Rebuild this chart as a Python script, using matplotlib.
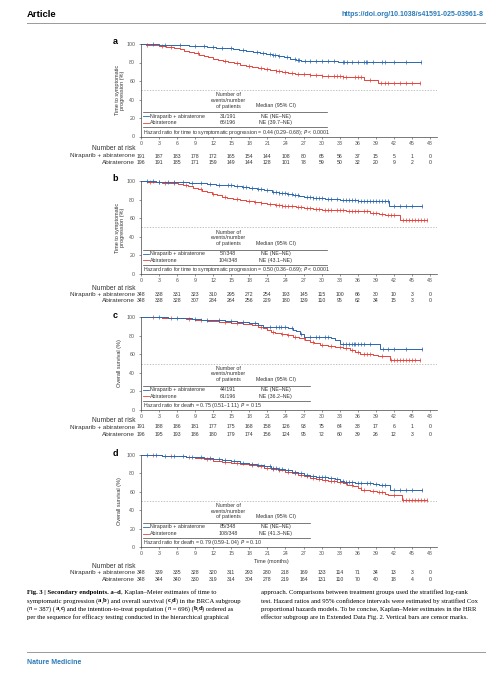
import numpy as np
import matplotlib
matplotlib.use("Agg")
import matplotlib.pyplot as plt
from matplotlib.transforms import blended_transform_factory

plt.rcParams["font.family"] = ["Liberation Sans", "DejaVu Sans"]

W, H = 493, 680
BLUE = "#2a66ad"
RED = "#e5433b"
LINK = "#2a7ab8"
INK = "#333333"
GREY = "#555555"

months = [0, 3, 6, 9, 12, 15, 18, 21, 24, 27, 30, 33, 36, 39, 42, 45, 48]
arms = ["Niraparib + abiraterone", "Abiraterone"]

# ---- panel a: time to symptomatic progression, BRCA
a_nir_t = [0, 1.2, 3.0, 5.5, 8.0, 9.5, 11.0, 12.5, 14.0, 15.2, 16.3, 17.5, 18.6, 19.8, 20.8,
           21.8, 22.8, 23.8, 24.8, 25.8, 26.6, 32.8]
a_nir_s = [100, 99.5, 99.0, 98.5, 98.0, 97.4, 96.8, 96.2, 95.5, 94.7, 93.8, 92.8, 91.8, 90.6, 89.4,
           88.3, 87.0, 85.5, 84.0, 82.5, 81.3, 80.8]
a_nir_end = 46.5
a_nir_cens = [2, 4, 6.5, 9, 10.5, 12, 13.5, 15, 17, 19.2, 20.3, 21.5, 22, 22.3, 23, 24.3, 25.5, 26,
              26.3, 27.2, 28, 29, 30, 31, 32, 33.5, 33.8, 34.2, 35, 36, 37, 37.3, 37.6, 38.5, 40,
              40.5, 42, 44, 46.5]
a_abi_t = [0, 0.8, 1.8, 3.0, 4.2, 5.5, 6.5, 7.2, 8.0, 8.8, 9.6, 10.4, 11.2, 12.0, 12.8, 13.6, 14.5,
           15.5, 16.5, 17.5, 18.5, 19.5, 20.5, 21.5, 22.5, 23.5, 24.5, 25.5, 26.5, 28.0, 30.0, 33.5,
           35.0, 37.0, 39.4]
a_abi_s = [100, 99.2, 98.4, 97.5, 96.4, 95.3, 94.2, 92.8, 91.5, 90.0, 88.6, 87.2, 85.8, 84.3, 83.0,
           81.6, 80.3, 79.0, 77.8, 76.6, 75.5, 74.3, 73.2, 72.0, 71.0, 70.0, 69.0, 68.0, 67.2, 66.3,
           65.6, 64.8, 63.8, 61.6, 58.2]
a_abi_end = 46.3
a_abi_cens = [1, 3.5, 5, 9.5, 14, 16, 18, 20, 21, 22.5, 23, 24, 25, 26, 27, 28, 29, 30, 31, 32,
              32.5, 33, 33.5, 34, 35.5, 36, 36.5, 38, 39.8, 40.5, 41, 42, 43, 44, 45, 46.3]
a_risk_nir = [191, 187, 183, 178, 172, 165, 154, 144, 108, 80, 65, 56, 37, 15, 5, 1, 0]
a_risk_abi = [196, 191, 185, 171, 159, 149, 144, 128, 101, 78, 59, 50, 32, 20, 9, 2, 0]
a_events = ["31/191", "66/196"]
a_median = ["NE (NE\u2013NE)", "NE (39.7\u2013NE)"]
a_hr = "Hazard ratio for time to symptomatic progression = 0.44 (0.29\u20130.68); $P$ < 0.0001"

# ---- panel b: time to symptomatic progression, ITT
b_nir_t = [0, 1, 2.5, 4, 6, 8, 9.5, 11, 12.5, 14, 15.5, 16.8, 18, 19.2, 20.5, 21.8, 23, 24.2,
           25.3, 26.2, 27.0, 28.5, 30.5, 32.0, 33.0, 36, 41.2]
b_nir_s = [100, 99.6, 99.2, 98.9, 98.6, 98.2, 97.6, 96.9, 96.1, 95.2, 94.2, 93.2, 92.1, 91.0,
           89.8, 88.6, 87.5, 86.4, 85.2, 83.8, 82.3, 81.6, 81.0, 80.2, 79.2, 78.8, 72.6]
b_nir_end = 46.6
b_nir_cens = [1, 2, 3, 4.5, 5.5, 7, 8.5, 10, 11.5, 13, 14.5, 15, 16, 17, 17.5, 18.5, 19.5, 20,
              21, 22, 22.5, 23, 23.5, 24, 24.5, 25, 25.5, 26, 27.5, 28, 28.5, 29, 29.5, 30, 31,
              31.5, 32.5, 33.5, 34, 34.5, 35, 35.5, 36, 36.5, 37, 37.5, 38, 38.5, 39, 39.5, 40,
              40.5, 41, 42, 43, 44, 45, 46.6]
b_abi_t = [0, 1, 2.2, 3.5, 5, 6.2, 7, 7.8, 8.6, 9.4, 10.2, 11.0, 11.8, 12.6, 13.4, 14.3, 15.3,
           16.4, 17.5, 18.7, 19.9, 21.0, 22.2, 23.4, 24.6, 25.8, 27.0, 28.5, 30.0, 32.0, 34.0,
           36.5, 38.0, 39.5, 40.5, 43.0]
b_abi_s = [100, 99.4, 98.8, 98.2, 97.5, 96.8, 95.6, 94.2, 92.6, 91.0, 89.4, 87.8, 86.2, 84.7,
           83.2, 81.8, 80.6, 79.5, 78.5, 77.4, 76.4, 75.4, 74.4, 73.5, 72.6, 71.7, 70.8, 70.0,
           69.3, 68.8, 68.2, 67.3, 66.0, 64.5, 63.4, 58.3]
b_abi_end = 47.5
b_abi_cens = [1.5, 3, 4, 5.5, 7.5, 10, 12, 14, 16, 18, 19, 20, 21.5, 22.5, 23, 23.5, 24, 24.5,
              25, 26, 26.5, 27.5, 28, 29, 29.5, 30.5, 31, 31.5, 32.5, 33, 33.5, 34.5, 35, 35.5,
              36, 37, 37.5, 38.5, 39, 40, 41, 41.5, 42, 43.5, 44, 44.5, 45, 45.5, 46, 46.5, 47,
              47.5]
b_risk_nir = [348, 338, 331, 323, 310, 295, 272, 254, 193, 145, 115, 100, 66, 30, 10, 3, 0]
b_risk_abi = [348, 338, 328, 307, 284, 264, 256, 229, 180, 139, 110, 95, 62, 34, 15, 3, 0]
b_events = ["57/348", "104/348"]
b_median = ["NE (NE\u2013NE)", "NE (43.1\u2013NE)"]
b_hr = "Hazard ratio for time to symptomatic progression = 0.50 (0.36\u20130.69); $P$ < 0.0001"

# ---- panel c: overall survival, BRCA
c_nir_t = [0, 2, 4.5, 7, 8.5, 10, 12, 14, 16, 18, 19.5, 20.3, 22, 24.5, 25.2, 25.8, 26.4, 27,
           29.5, 31.5, 32.3, 33, 39.7]
c_nir_s = [100, 99.6, 99.1, 98.5, 98.0, 97.2, 96.4, 95.6, 94.6, 93.2, 91.5, 89.5, 88.8, 88.0,
           86.5, 84.5, 82.0, 79.0, 78.2, 77.0, 75.2, 70.5, 66.0]
c_nir_end = 46.6
c_nir_cens = [3, 6, 9, 11, 13, 15, 17, 19, 21.5, 22.5, 23, 23.3, 24, 25, 26.5, 28, 29, 29.5,
              30.5, 31, 33.5, 34, 34.5, 35, 35.3, 35.6, 36, 36.5, 37, 38, 40.2, 41, 42, 44, 46.6]
c_abi_t = [0, 1.5, 3.5, 6, 7.5, 9, 11, 13, 15, 17, 18.5, 19.5, 20.3, 21, 21.6, 22.3, 23.2, 24.2,
           25.2, 26.2, 27.2, 28.0, 28.8, 29.8, 31.0, 32.3, 33.6, 34.7, 35.6, 36.4, 38.5, 39.3, 41.3]
c_abi_s = [100, 99.5, 99.0, 98.6, 97.8, 97.0, 96.0, 95.0, 93.8, 92.4, 91.2, 89.6, 87.8, 85.8,
           84.2, 82.8, 81.5, 80.2, 79.0, 77.5, 75.6, 73.5, 71.8, 70.0, 68.5, 67.3, 66.2, 64.5,
           62.2, 60.3, 59.5, 57.8, 53.6]
c_abi_end = 46.3
c_abi_cens = [2, 5, 8, 10, 14, 16, 20, 22, 23.5, 24.5, 25.5, 27, 28.5, 30, 31.5, 33, 34, 35, 36,
              37, 37.5, 38, 40, 41.5, 42, 42.5, 43, 43.5, 44, 44.5, 45, 45.5, 46.3]
c_risk_nir = [191, 188, 186, 181, 177, 175, 168, 158, 126, 93, 75, 64, 38, 17, 6, 1, 0]
c_risk_abi = [196, 195, 193, 186, 180, 179, 174, 156, 124, 95, 72, 60, 39, 26, 12, 3, 0]
c_events = ["44/191", "61/196"]
c_median = ["NE (NE\u2013NE)", "NE (36.2\u2013NE)"]
c_hr = "Hazard ratio for death = 0.75 (0.51\u20131.11); $P$ = 0.15"

# ---- panel d: overall survival, ITT
d_nir_t = [0, 1.5, 3.5, 6, 7.5, 9, 10.5, 12, 13.5, 15, 16.5, 18, 19.2, 20.4, 21.6, 22.8, 24, 25,
           26, 27, 28, 29, 31, 32.2, 33, 33.8, 35.5, 37, 38.5, 39.5, 41.3]
d_nir_s = [100, 99.6, 99.2, 98.7, 98.2, 97.4, 96.5, 95.4, 94.2, 93.0, 91.8, 90.4, 89.0, 87.6,
           86.2, 84.8, 83.4, 81.8, 80.3, 78.8, 77.0, 75.8, 75.0, 73.8, 72.2, 70.8, 70.0, 69.4,
           68.4, 67.5, 62.5]
d_nir_end = 46.6
d_nir_cens = [1, 2.5, 4, 5.5, 7, 8.5, 10, 11.5, 13, 14, 15.5, 17, 18.5, 19.5, 20.5, 21.5, 22,
              22.5, 23, 23.5, 24.5, 25.5, 26.5, 27.5, 28.5, 29.5, 30, 30.5, 31.5, 32.5, 33.5, 34,
              34.5, 35, 36, 36.5, 37.5, 38, 39, 40, 40.5, 42, 43, 44, 45, 46.6]
d_abi_t = [0, 1.5, 3.5, 6, 7.5, 9, 10.5, 12, 13.5, 15, 16.5, 18, 19.2, 20.4, 21.6, 22.8, 24, 25,
           26, 27, 28, 29, 30, 31, 32.5, 33.5, 34.3, 35.2, 36.0, 36.6, 38, 39.2, 40.5, 41, 43.3]
d_abi_s = [100, 99.5, 99.0, 98.4, 97.6, 96.5, 95.4, 94.0, 92.6, 91.6, 90.4, 89.2, 87.8, 86.2,
           84.8, 83.2, 81.6, 80.0, 78.4, 76.8, 75.4, 74.2, 73.0, 72.0, 71.0, 69.5, 67.8, 66.0,
           63.8, 62.0, 61.0, 60.0, 58.0, 56.3, 51.0]
d_abi_end = 47.5
d_abi_cens = [2, 5, 8, 11, 14, 16, 18.5, 20, 21, 22, 23, 24.5, 25.5, 26.5, 27.5, 28.5, 29.5,
              30.5, 31.5, 32, 33, 34, 35, 36.5, 37, 38.5, 39.5, 40, 42, 43.5, 44, 44.5, 45, 45.5,
              46, 46.5, 47, 47.5]
d_risk_nir = [348, 339, 335, 328, 320, 311, 293, 280, 218, 169, 133, 114, 71, 34, 13, 3, 0]
d_risk_abi = [348, 344, 340, 330, 319, 314, 304, 278, 219, 164, 131, 110, 70, 40, 18, 4, 0]
d_events = ["85/348", "108/348"]
d_median = ["NE (NE\u2013NE)", "NE (41.3\u2013NE)"]
d_hr = "Hazard ratio for death = 0.79 (0.59\u20131.04); $P$ = 0.10"

TTP_LABEL = "Time to symptomatic\nprogression (%)"
OS_LABEL = "Overall survival (%)"

caption_left = [
    [("Fig. 3 | Secondary endpoints. a\u2013d", "b"), (", Kaplan\u2013Meier estimates of time to", "")],
    [("symptomatic progression (", ""), ("a", "b"), (",", ""), ("b", "b"),
     (") and overall survival (", ""), ("c", "b"), (",", ""), ("d", "b"),
     (") in the BRCA subgroup", "")],
    [("(", ""), ("n", "i"), (" = 387) (", ""), ("a", "b"), (",", ""), ("c", "b"),
     (") and the intention-to-treat population (", ""), ("n", "i"), (" = 696) (", ""),
     ("b", "b"), (",", ""), ("d", "b"), (") ordered as", "")],
    [("per the sequence for efficacy testing conducted in the hierarchical graphical", "")],
]
caption_right = [
    "approach. Comparisons between treatment groups used the stratified log-rank",
    "test. Hazard ratios and 95% confidence intervals were estimated by stratified Cox",
    "proportional hazards models. To be concise, Kaplan\u2013Meier estimates in the HRR",
    "effector subgroup are in Extended Data Fig. 2. Vertical bars are censor marks.",
]

fig = plt.figure(figsize=(W / 100, H / 100), dpi=100)


def fx(x):
    return x / W


def fy(y):
    return 1 - y / H


X0, PXM, XMAX = 141, 6.02, 49.2


def step_at(t, s, c):
    i = np.searchsorted(np.asarray(t), np.asarray(c), side="right") - 1
    return np.asarray(s)[i]


def km(ax, t, s, end, cens, color):
    tt = list(t) + [end]
    ss = list(s) + [s[-1]]
    ax.step(tt, ss, where="post", color=color, lw=0.7, clip_on=False)
    ax.plot(cens, step_at(t, s, cens), ls="none", marker="|", ms=2.5, mew=0.5,
            color=color, clip_on=False)


def panel(letter, top, zero, curves, risk, events, median, hr, ylabel, tab_right, rows_y,
          head_y, xlabel=None):
    ax = fig.add_axes([fx(X0), fy(zero), XMAX * PXM / W, (zero - top) / H])
    ax.set_xlim(0, XMAX)
    ax.set_ylim(0, 100)
    for sp in ("top", "right"):
        ax.spines[sp].set_visible(False)
    for sp in ("left", "bottom"):
        ax.spines[sp].set_linewidth(0.5)
        ax.spines[sp].set_color("#444444")
    ax.set_xticks(months)
    ax.set_yticks([0, 20, 40, 60, 80, 100])
    ax.tick_params(labelsize=3.8, labelcolor=GREY, length=1.6, width=0.4, color="#444444",
                   pad=1.6)
    ax.tick_params(axis="y", pad=2.6)
    ax.axhline(50, color="#aaaaaa", lw=0.5, ls=(0, (2, 2)))

    (nt, ns, ne, nc), (at, as_, ae, ac) = curves
    km(ax, at, as_, ae, ac, RED)
    km(ax, nt, ns, ne, nc, BLUE)

    # embedded table
    fs = 3.75
    ax.text(14.45, 39, "Number of\nevents/number\nof patients", ha="center", va="center",
            fontsize=fs, color=INK, linespacing=1.15)
    ax.text(22.4, 33, "Median (95% CI)", ha="center", va="center", fontsize=fs, color=INK)
    ax.plot([0.33, tab_right], [26.3, 26.3], color="#444444", lw=0.5)
    ax.plot([0.33, tab_right], [9.8, 9.8], color="#444444", lw=0.5)
    for yv, col, name, ev, md in zip([22, 14.6], [BLUE, RED], arms, events, median):
        ax.plot([0.33, 1.3], [yv, yv], color=col, lw=0.6)
        ax.text(1.55, yv, name, ha="left", va="center", fontsize=fs, color=INK)
        ax.text(14.45, yv, ev, ha="center", va="center", fontsize=fs, color=INK)
        ax.text(22.4, yv, md, ha="center", va="center", fontsize=fs, color=INK)
    ax.text(0.33, 4.8, hr, ha="left", va="center", fontsize=fs, color=INK)

    # labels
    fig.text(fx(115), fy(top - 2), letter, fontsize=6.5, fontweight="bold", ha="center",
             va="center")
    fig.text(fx(120), fy((top + zero) / 2), ylabel, rotation=90, ha="center", va="center",
             fontsize=4.0, color=INK, linespacing=1.1)
    if xlabel:
        fig.text(fx(271), fy(xlabel[1]), xlabel[0], ha="center", va="center", fontsize=3.9,
                 color=INK)

    # number at risk
    tr = blended_transform_factory(ax.transData, fig.transFigure)
    fig.text(fx(135), fy(head_y), "Number at risk", ha="right", va="center", fontsize=4.8,
             color=INK)
    for yv, name, vals in zip(rows_y, arms, risk):
        fig.text(fx(135), fy(yv), name, ha="right", va="center", fontsize=4.6, color=INK)
        for m, v in zip(months, vals):
            ax.text(m, fy(yv), str(v), transform=tr, ha="center", va="center", fontsize=3.7,
                    color=INK)
    return ax


panel("a", 44, 136.5,
      [(a_nir_t, a_nir_s, a_nir_end, a_nir_cens), (a_abi_t, a_abi_s, a_abi_end, a_abi_cens)],
      [a_risk_nir, a_risk_abi], a_events, a_median, a_hr, TTP_LABEL, 30.9, [156, 163], 149)
panel("b", 181, 274,
      [(b_nir_t, b_nir_s, b_nir_end, b_nir_cens), (b_abi_t, b_abi_s, b_abi_end, b_abi_cens)],
      [b_risk_nir, b_risk_abi], b_events, b_median, b_hr, TTP_LABEL, 30.9, [294.5, 301], 288.5)
panel("c", 317, 410,
      [(c_nir_t, c_nir_s, c_nir_end, c_nir_cens), (c_abi_t, c_abi_s, c_abi_end, c_abi_cens)],
      [c_risk_nir, c_risk_abi], c_events, c_median, c_hr, OS_LABEL, 28.1, [427, 434], 421)
panel("d", 455, 547,
      [(d_nir_t, d_nir_s, d_nir_end, d_nir_cens), (d_abi_t, d_abi_s, d_abi_end, d_abi_cens)],
      [d_risk_nir, d_risk_abi], d_events, d_median, d_hr, OS_LABEL, 28.1, [572.3, 579.3], 567,
      xlabel=("Time (months)", 562))

# page header / footer
fig.text(fx(27), fy(14.7), "Article", fontsize=6.8, fontweight="bold", va="center", ha="left")
fig.text(fx(484), fy(14.7), "https://doi.org/10.1038/s41591-025-03961-8", fontsize=5.0,
         fontweight="semibold", color=LINK, va="center", ha="right")
fig.add_artist(plt.Line2D([fx(27), fx(485)], [fy(22.7), fy(22.7)], color="#9a9a9a", lw=0.7))
fig.add_artist(plt.Line2D([fx(27), fx(485)], [fy(652), fy(652)], color="#9a9a9a", lw=0.7))
fig.text(fx(27), fy(663), "Nature Medicine", fontsize=5.0, fontweight="semibold", color=LINK,
         va="center", ha="left")

# caption
CAP_FS = 4.8
CAP_FAM = ["Liberation Serif", "DejaVu Serif"]
cap_y = [592.6, 600.8, 609.0, 617.3]
renderer = fig.canvas.get_renderer()
for yv, runs in zip(cap_y, caption_left):
    x = 27.0
    for txt, st in runs:
        t = fig.text(fx(x), fy(yv), txt, fontsize=CAP_FS, family=CAP_FAM, va="center",
                     ha="left", fontweight="bold" if "b" in st else "normal",
                     fontstyle="italic" if "i" in st else "normal")
        x += t.get_window_extent(renderer=renderer).width
for yv, line in zip(cap_y, caption_right):
    fig.text(fx(261), fy(yv), line, fontsize=CAP_FS, family=CAP_FAM, va="center", ha="left")

fig.savefig("out.png", dpi=100)
